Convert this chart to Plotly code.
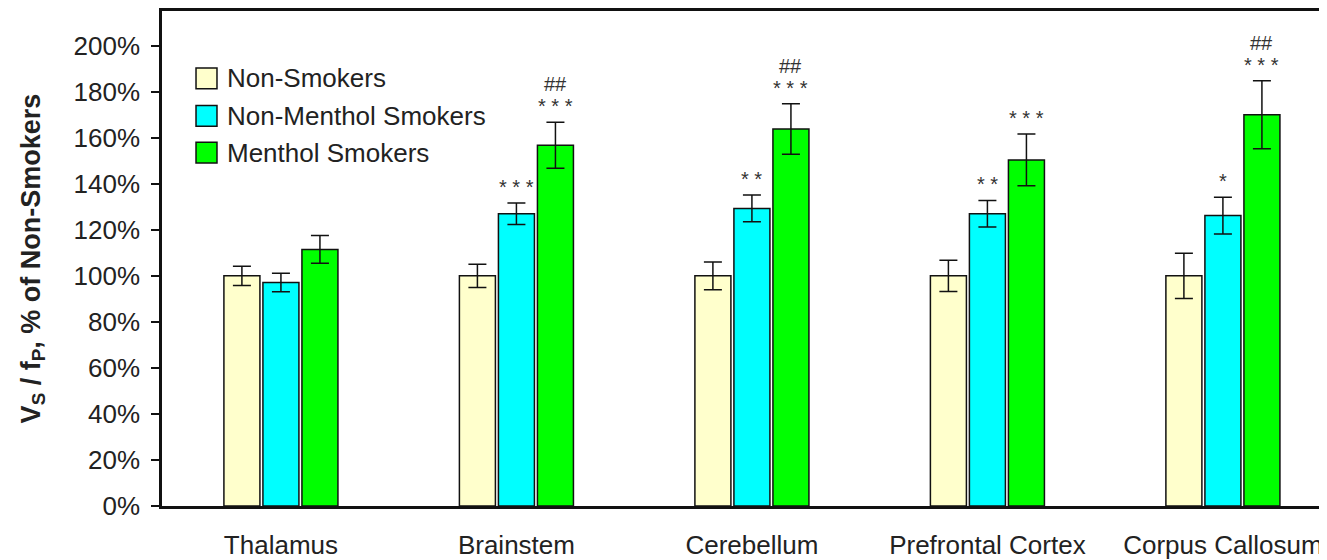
import plotly.graph_objects as go

regions = ['Thalamus', 'Brainstem', 'Cerebellum', 'Prefrontal Cortex', 'Corpus Callosum']
series = ['Non-Smokers', 'Non-Menthol Smokers', 'Menthol Smokers']
colors = ['#FFFFCC', '#00FFFF', '#00FF00']

non_smokers = [100, 100, 100, 100, 100]
non_smokers_err = [4.2, 5.0, 6.0, 6.8, 9.8]
non_menthol = [97.1, 127.0, 129.3, 127.0, 126.2]
non_menthol_err = [4.0, 4.7, 5.8, 5.8, 8.0]
menthol = [111.5, 156.8, 163.8, 150.4, 170.0]
menthol_err = [6.0, 10.0, 11.0, 11.2, 14.8]

# significance marks vs non-smokers (*) and vs non-menthol smokers (#)
non_menthol_sig = ['', '***', '**', '**', '*']
menthol_sig = ['', '***', '***', '***', '***']
menthol_sig2 = ['', '##', '##', '', '##']

y_ticks = [0, 20, 40, 60, 80, 100, 120, 140, 160, 180, 200]
y_tick_labels = ['0%', '20%', '40%', '60%', '80%', '100%', '120%', '140%', '160%', '180%', '200%']

values = [non_smokers, non_menthol, menthol]
errors = [non_smokers_err, non_menthol_err, menthol_err]

font = 'Arial, Liberation Sans, sans-serif'
fig = go.Figure()
for name, col, y, e in zip(series, colors, values, errors):
    fig.add_trace(go.Bar(x=regions, y=y, name=name,
                         marker=dict(color=col, line=dict(color='#111', width=1.5)),
                         error_y=dict(type='data', array=e, color='#111',
                                      thickness=1.5, width=9),
                         offsetgroup=name))

# significance annotations (placed above the error bars)
n = len(series)
slot = 0.497 / n
for gi, (sig_lists, y, e) in enumerate([([non_menthol_sig], non_menthol, non_menthol_err),
                                         ([menthol_sig, menthol_sig2], menthol, menthol_err)]):
    k = gi + 1
    for i in range(len(regions)):
        xpos = i - 0.497 / 2 + slot * (k + 0.5)
        for level, sl in enumerate(sig_lists):
            txt = sl[i]
            if not txt:
                continue
            if '*' in txt:
                txt = ' '.join(txt)
                shift = 3
            else:
                shift = 25
            fig.add_annotation(x=xpos, y=y[i] + e[i], xref='x', yref='y',
                               text=txt, showarrow=False, yanchor='bottom',
                               yshift=shift, font=dict(size=20, color='#333', family=font))

# hand-drawn legend with large swatches
legend_y = [0.864, 0.788, 0.714]
for name, col, ly in zip(series, colors, legend_y):
    fig.add_shape(type='rect', xref='paper', yref='paper',
                  x0=0.0292, x1=0.0472, y0=ly - 0.021, y1=ly + 0.021,
                  fillcolor=col, line=dict(color='#111', width=1.5))
    fig.add_annotation(x=0.054, y=ly, xref='paper', yref='paper', text=name,
                       showarrow=False, xanchor='left', yanchor='middle',
                       font=dict(size=26, color='#222', family=font))

# page body adds an 8px offset, so the figure is sized to fit the window
fig.update_layout(
    width=1319, height=552,
    margin=dict(l=154, r=0, t=0, b=53),
    plot_bgcolor='white', paper_bgcolor='white',
    barmode='group', bargap=0.503, bargroupgap=0.077,
    showlegend=False,
    font=dict(family=font, size=26, color='#222'),
    xaxis=dict(range=[-0.505, 4.442], showline=True, linecolor='#111', linewidth=2.5,
               mirror=True, ticks='', showgrid=False, ticklabelstandoff=14,
               tickfont=dict(size=26, color='#222')),
    yaxis=dict(range=[0, 215.1], tickvals=y_ticks, ticktext=y_tick_labels,
               showline=True, linecolor='#111', linewidth=2.5, ticks='outside',
               ticklen=8, tickwidth=2, tickcolor='#111', showgrid=False, zeroline=False,
               ticklabelstandoff=6, tickfont=dict(size=26, color='#222'),
               title=dict(text='<b>V<sub>S</sub> / f<sub>P</sub>, % of Non-Smokers</b>',
                          font=dict(size=27, color='#222'), standoff=26)),
)

fig.write_html('out.html')
